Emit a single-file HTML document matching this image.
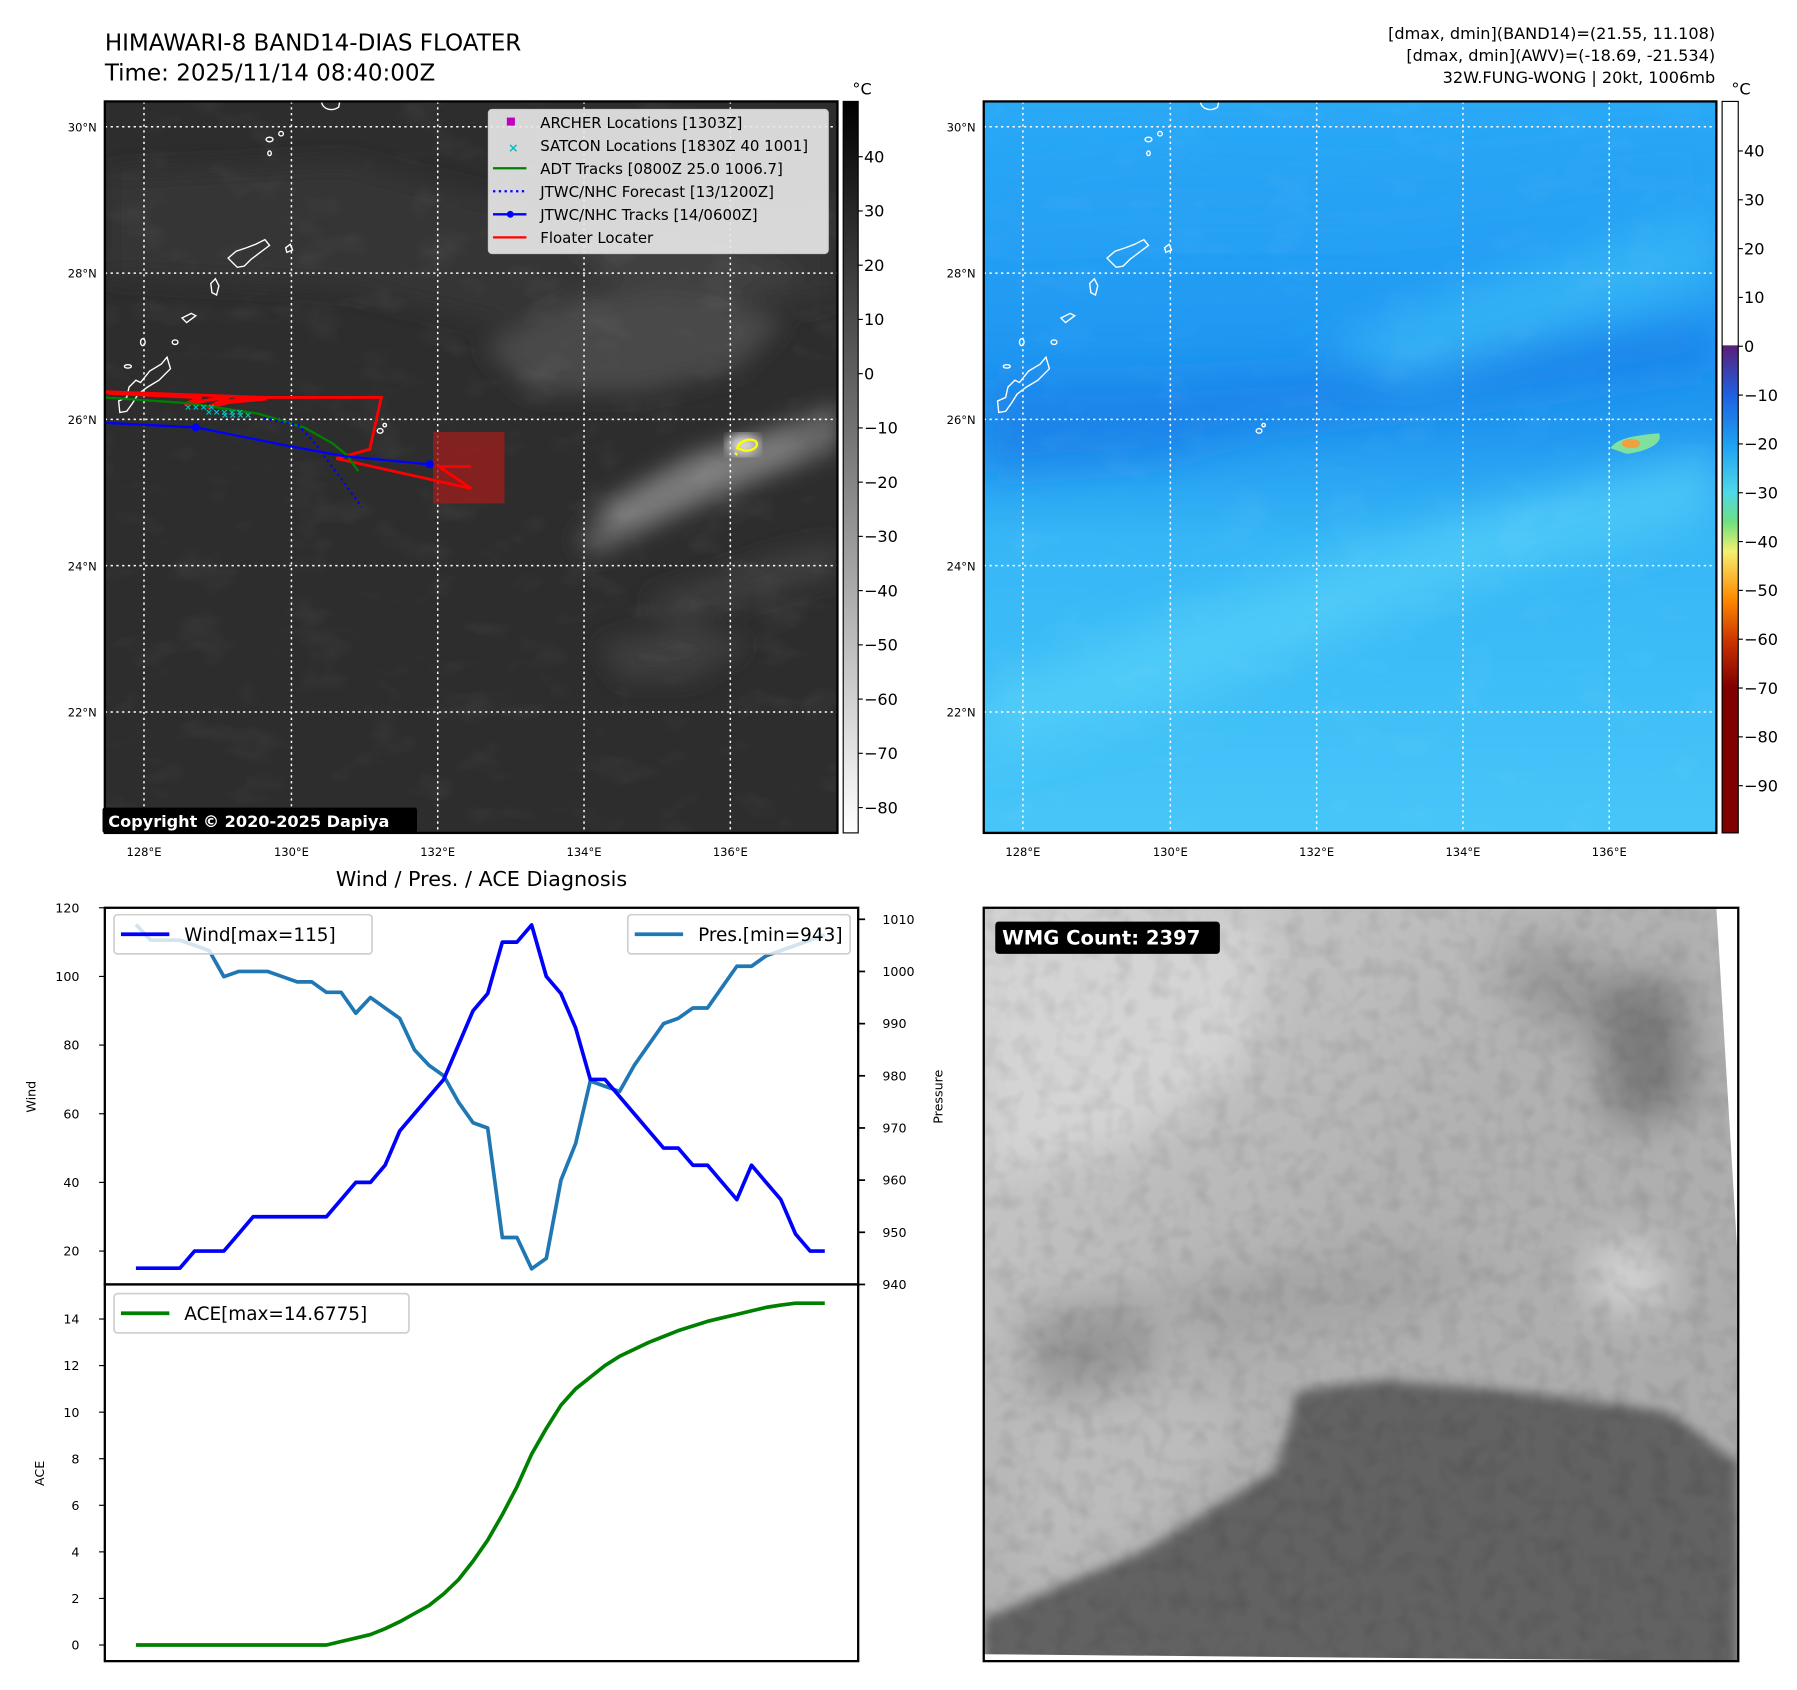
<!DOCTYPE html>
<html><head><meta charset="utf-8">
<style>
html,body{margin:0;padding:0;background:#fff;}
svg{display:block;font-family:"DejaVu Sans","Liberation Sans",sans-serif;}
</style></head>
<body>
<svg id="fig" width="1797" height="1690" viewBox="0 0 1560 1467" xmlns="http://www.w3.org/2000/svg">
<defs>
  <linearGradient id="cb1" x1="0" y1="0" x2="0" y2="1">
    <stop offset="0" stop-color="#000"/><stop offset="1" stop-color="#fff"/>
  </linearGradient>
  <linearGradient id="cb2" x1="0" y1="0" x2="0" y2="1">
    <stop offset="0" stop-color="#fff"/><stop offset="0.333" stop-color="#fff"/>
    <stop offset="0.334" stop-color="#5a1e78"/>
    <stop offset="0.40" stop-color="#1f5fe0"/>
    <stop offset="0.47" stop-color="#1ea2f2"/>
    <stop offset="0.535" stop-color="#4fd8e8"/>
    <stop offset="0.575" stop-color="#6ee080"/>
    <stop offset="0.615" stop-color="#f4f070"/>
    <stop offset="0.68" stop-color="#ff8a00"/>
    <stop offset="0.74" stop-color="#c83200"/>
    <stop offset="0.80" stop-color="#800000"/>
    <stop offset="1" stop-color="#800000"/>
  </linearGradient>
  <linearGradient id="blueBg" x1="0" y1="0" x2="0" y2="1">
    <stop offset="0" stop-color="#2aa9f6"/>
    <stop offset="0.35" stop-color="#1f97f2"/>
    <stop offset="0.45" stop-color="#2198f0"/>
    <stop offset="0.6" stop-color="#36b6f6"/>
    <stop offset="1" stop-color="#46c6f8"/>
  </linearGradient>
  <linearGradient id="wmgBg" x1="0" y1="0" x2="1" y2="1">
    <stop offset="0" stop-color="#d2d2d2"/>
    <stop offset="0.45" stop-color="#b2b2b2"/>
    <stop offset="1" stop-color="#a8a8a8"/>
  </linearGradient>
  <filter id="blur8"><feGaussianBlur stdDeviation="10"/></filter>
  <filter id="blur16"><feGaussianBlur stdDeviation="18"/></filter>
  <filter id="blur4"><feGaussianBlur stdDeviation="5"/></filter>
  <filter id="tex" x="0" y="0" width="100%" height="100%">
    <feTurbulence type="fractalNoise" baseFrequency="0.02 0.035" numOctaves="3" seed="4"/>
    <feColorMatrix type="matrix" values="0 0 0 0 1  0 0 0 0 1  0 0 0 0 1  0 0 0 1.4 -0.75"/>
  </filter>
  <filter id="tex2" x="0" y="0" width="100%" height="100%">
    <feTurbulence type="fractalNoise" baseFrequency="0.06" numOctaves="2" seed="9"/>
    <feColorMatrix type="matrix" values="0 0 0 0 0  0 0 0 0 0  0 0 0 0 0  0 0 0 1.6 -0.7"/>
  </filter>
  <clipPath id="clipMap1"><rect x="91" y="88" width="636" height="635"/></clipPath>
  <clipPath id="clipMap2"><rect x="854" y="88" width="636" height="635"/></clipPath>
  <g id="islands" fill="none" stroke="#fff" stroke-width="1.2">
    <path d="M104,358 L103,348 L110,345 L112,336 L118,330 L122,332 L130,322 L140,316 L145,310 L148,320 L138,330 L128,336 L120,342 L115,350 L110,357 Z"/>
    <path d="M198,224 L205,218 L214,215 L222,212 L230,208 L234,213 L226,219 L218,225 L212,231 L206,232 L202,228 Z"/>
    <path d="M183,246 L187,242 L190,248 L188,256 L184,254 Z"/>
    <path d="M158,276 L166,272 L170,274 L162,280 Z"/>
    <path d="M248,215 L252,212 L254,217 L249,219 Z"/>
    <path d="M279,88 C280,95 288,97 294,93 L295,88"/>
    <ellipse cx="234" cy="121" rx="3" ry="2"/>
    <ellipse cx="244" cy="116" rx="2" ry="2"/>
    <ellipse cx="234" cy="133" rx="1.5" ry="2"/>
    <ellipse cx="152" cy="297" rx="2.5" ry="2"/>
    <ellipse cx="124" cy="297" rx="2" ry="3"/>
    <ellipse cx="330" cy="374" rx="2.5" ry="2"/>
    <ellipse cx="334" cy="369" rx="1.5" ry="1.5"/>
    <ellipse cx="111" cy="318" rx="3" ry="1.5"/>
  </g>
</defs>

<text x="91" y="44" font-size="20">HIMAWARI-8 BAND14-DIAS FLOATER</text>
<text x="91" y="70" font-size="20">Time: 2025/11/14 08:40:00Z</text>
<g font-size="14" text-anchor="end">
  <text x="1489" y="34">[dmax, dmin](BAND14)=(21.55, 11.108)</text>
  <text x="1489" y="53">[dmax, dmin](AWV)=(-18.69, -21.534)</text>
  <text x="1489" y="72">32W.FUNG-WONG | 20kt, 1006mb</text>
</g>

<!-- Map 1 -->
<g clip-path="url(#clipMap1)">
  <rect x="91" y="88" width="636" height="635" fill="#2d2d2d"/>
  <g filter="url(#blur8)">
    <polygon points="91,150 300,140 500,190 727,180 727,260 600,280 500,300 300,250 91,240" fill="#363636"/>
    <polygon points="420,300 500,260 600,250 680,280 640,320 560,340 460,340" fill="#484848"/>
    <polygon points="480,200 560,200 640,210 700,240 640,260 540,250" fill="#404040"/>
    <polygon points="500,470 560,420 640,385 727,350 727,390 650,420 580,450 520,480" fill="#666"/>
    <polygon points="520,440 600,395 680,370 700,395 620,430 550,460" fill="#7a7a7a"/>
    <polygon points="560,520 620,500 680,480 727,470 727,500 650,520 590,540" fill="#3e3e3e"/>
    <polygon points="520,560 600,540 650,560 600,590 540,590" fill="#3c3c3c"/>
  </g>
  <rect x="91" y="88" width="636" height="635" filter="url(#tex)" opacity="0.1"/>
  <use href="#islands"/>
  <g stroke="#fff" stroke-width="1.3" stroke-dasharray="2,3">
    <line x1="125" y1="88" x2="125" y2="723"/><line x1="253" y1="88" x2="253" y2="723"/>
    <line x1="380" y1="88" x2="380" y2="723"/><line x1="507" y1="88" x2="507" y2="723"/>
    <line x1="634" y1="88" x2="634" y2="723"/>
    <line x1="91" y1="110" x2="727" y2="110"/><line x1="91" y1="237" x2="727" y2="237"/>
    <line x1="91" y1="364" x2="727" y2="364"/><line x1="91" y1="491" x2="727" y2="491"/>
    <line x1="91" y1="618" x2="727" y2="618"/>
  </g>
  <rect x="376" y="375" width="62" height="62" fill="#a01c1c" opacity="0.75"/>
  <polyline points="91,340 230,345 331,345 321,390 292,398 409,424 381,405 409,405" fill="none" stroke="#f00" stroke-width="2.5"/>
  <polyline points="93,341 175,345 160,351 200,344 180,354 215,345 190,350 232,346 200,348" fill="none" stroke="#f00" stroke-width="3"/>
  <polyline points="91,345 164,350 224,359 264,371 289,385 301,395 311,409" fill="none" stroke="#008000" stroke-width="2"/>
  <polyline points="229,363 259,369 272,383 289,406 314,440" fill="none" stroke="#00f" stroke-width="2" stroke-dasharray="2,3"/>
  <polyline points="91,367 170,371 250,387 299,396 372,403" fill="none" stroke="#00f" stroke-width="2"/>
  <circle cx="170" cy="371" r="3.5" fill="#00f"/><circle cx="373" cy="403" r="3.5" fill="#00f"/>
  <g fill="#00c0c0" font-size="8" font-weight="bold">
    <text x="160" y="356">××××</text><text x="178" y="360">×××××</text><text x="192" y="363">××××</text>
  </g>
  <ellipse cx="645" cy="386" rx="14" ry="9" fill="#ddd" filter="url(#blur4)"/>
  <path d="M640,389 C642,382 652,380 656,383 C660,388 652,392 646,391 Z M638,393 L640,395" fill="none" stroke="#ff0" stroke-width="2"/>
</g>
<rect x="91" y="88" width="636" height="635" fill="none" stroke="#000" stroke-width="2"/>
<g>
  <rect x="424" y="95" width="295" height="125" rx="3" fill="#e6e6e6" fill-opacity="0.92" stroke="#ccc"/>
  <g font-size="13">
    <rect x="440" y="102" width="7" height="7" fill="#c000c0"/>
    <text x="441" y="132" fill="#00c0c0" font-weight="bold" font-size="11">×</text>
    <line x1="428" y1="146" x2="457" y2="146" stroke="#008000" stroke-width="2"/>
    <line x1="428" y1="166" x2="457" y2="166" stroke="#00f" stroke-width="2" stroke-dasharray="2,3"/>
    <line x1="428" y1="186" x2="457" y2="186" stroke="#00f" stroke-width="2"/><circle cx="443" cy="186" r="3" fill="#00f"/>
    <line x1="428" y1="206" x2="457" y2="206" stroke="#f00" stroke-width="2"/>
    <text x="469" y="111">ARCHER Locations [1303Z]</text>
    <text x="469" y="131">SATCON Locations [1830Z 40 1001]</text>
    <text x="469" y="151">ADT Tracks [0800Z 25.0 1006.7]</text>
    <text x="469" y="171">JTWC/NHC Forecast [13/1200Z]</text>
    <text x="469" y="191">JTWC/NHC Tracks [14/0600Z]</text>
    <text x="469" y="211">Floater Locater</text>
  </g>
</g>
<g>
  <rect x="89" y="701" width="273" height="22" rx="2" fill="#000"/>
  <text x="94" y="718" fill="#fff" font-size="14" font-weight="bold">Copyright © 2020-2025 Dapiya</text>
</g>
<g font-size="10" fill="#000">
  <g text-anchor="end"><text x="84" y="114">30°N</text><text x="84" y="241">28°N</text><text x="84" y="368">26°N</text><text x="84" y="495">24°N</text><text x="84" y="622">22°N</text></g>
  <g text-anchor="middle"><text x="125" y="743">128°E</text><text x="253" y="743">130°E</text><text x="380" y="743">132°E</text><text x="507" y="743">134°E</text><text x="634" y="743">136°E</text></g>
</g>
<g>
  <rect x="732" y="88" width="13" height="635" fill="url(#cb1)" stroke="#000" stroke-width="1"/>
  <text x="740" y="82" font-size="14">°C</text>
  <g id="cb1ticks" font-size="14"></g>
</g>

<!-- Map 2 -->
<g clip-path="url(#clipMap2)">
  <rect x="854" y="88" width="636" height="635" fill="url(#blueBg)"/>
  <g filter="url(#blur16)">
    <polygon points="854,330 1000,330 1150,320 1300,300 1490,280 1490,320 1300,345 1100,370 1000,400 854,410" fill="#1a7fe8" opacity="0.8"/>
    <polygon points="1150,300 1300,240 1490,180 1490,250 1350,290 1220,330" fill="#3ab8f6" opacity="0.8"/>
    <polygon points="854,600 1000,540 1150,490 1300,440 1490,390 1490,450 1300,500 1150,560 1000,620 854,660" fill="#55d0f8" opacity="0.7"/>
    <polygon points="854,160 1000,140 1200,150 1490,120 1490,160 1200,200 1000,200 854,210" fill="#2ba3f4" opacity="0.7"/>
  </g>
  <rect x="854" y="88" width="636" height="635" filter="url(#tex)" opacity="0.08"/>
  <path d="M1398,389 C1404,380 1420,378 1440,376 C1445,384 1430,392 1412,394 Z" fill="#7fe0a0"/>
  <ellipse cx="1416" cy="385" rx="8" ry="4" fill="#f0a040"/>
  <use href="#islands" transform="translate(763,0)"/>
  <g stroke="#fff" stroke-width="1.3" stroke-dasharray="2,3">
    <line x1="888" y1="88" x2="888" y2="723"/><line x1="1016" y1="88" x2="1016" y2="723"/>
    <line x1="1143" y1="88" x2="1143" y2="723"/><line x1="1270" y1="88" x2="1270" y2="723"/>
    <line x1="1397" y1="88" x2="1397" y2="723"/>
    <line x1="854" y1="110" x2="1490" y2="110"/><line x1="854" y1="237" x2="1490" y2="237"/>
    <line x1="854" y1="364" x2="1490" y2="364"/><line x1="854" y1="491" x2="1490" y2="491"/>
    <line x1="854" y1="618" x2="1490" y2="618"/>
  </g>
</g>
<rect x="854" y="88" width="636" height="635" fill="none" stroke="#000" stroke-width="2"/>
<g font-size="10" fill="#000">
  <g text-anchor="end"><text x="847" y="114">30°N</text><text x="847" y="241">28°N</text><text x="847" y="368">26°N</text><text x="847" y="495">24°N</text><text x="847" y="622">22°N</text></g>
  <g text-anchor="middle"><text x="888" y="743">128°E</text><text x="1016" y="743">130°E</text><text x="1143" y="743">132°E</text><text x="1270" y="743">134°E</text><text x="1397" y="743">136°E</text></g>
</g>
<g>
  <rect x="1495" y="88" width="14" height="635" fill="url(#cb2)" stroke="#000" stroke-width="1"/>
  <text x="1503" y="82" font-size="14">°C</text>
  <g id="cb2ticks" font-size="14"></g>
</g>

<text x="418" y="769" font-size="18" text-anchor="middle">Wind / Pres. / ACE Diagnosis</text>
<g id="chart"></g>

<!-- WMG -->
<g>
  <clipPath id="clipW"><polygon points="854,788 1490,788 1509,1100 1509,1442 854,1442"/></clipPath>
  <g clip-path="url(#clipW)">
    <rect x="854" y="788" width="655" height="654" fill="url(#wmgBg)"/>
    <g filter="url(#blur16)">
      <polygon points="854,800 1100,800 1080,920 980,990 854,1020" fill="#d4d4d4"/>
      <polygon points="1380,850 1460,850 1470,960 1400,980" fill="#7a7a7a"/>
      <polygon points="1300,820 1380,820 1380,900 1320,880" fill="#9a9a9a"/>
      <polygon points="890,1140 1000,1130 1000,1200 900,1220" fill="#969696"/>
      <polygon points="1380,1080 1440,1080 1450,1130 1385,1140" fill="#d4d4d4"/>
      <polygon points="1000,1120 1200,1080 1300,1100 1200,1150 1050,1170" fill="#a4a4a4"/>
      <polygon points="880,1220 1000,1200 1090,1230 1000,1330 880,1380" fill="#bcbcbc"/>
    </g>
    <g filter="url(#blur4)">
      <polygon points="854,1405 991,1347 1109,1275 1127,1207 1200,1198 1310,1207 1446,1225 1509,1270 1509,1460 854,1460" fill="#626262"/>
    </g>
    <rect x="854" y="788" width="655" height="654" filter="url(#tex2)" opacity="0.12"/>
  </g>
  <polygon points="854,1436 1509,1442 854,1442" fill="#fff"/>
  <rect x="854" y="788" width="655" height="654" fill="none" stroke="#000" stroke-width="2"/>
  <rect x="864" y="800" width="195" height="28" rx="3" fill="#000"/>
  <text x="870" y="820" fill="#fff" font-size="17" font-weight="bold">WMG Count: 2397</text>
</g>

<script>
const windValues = [15,15,15,15,20,20,20,25,30,30,30,30,30,30,35,40,40,45,55,60,65,70,80,90,95,110,110,115,100,95,85,70,70,65,60,55,50,50,45,45,40,35,45,40,35,25,20,20];
const presValues = [1009,1006,1006,1006,1005,1004,999,1000,1000,1000,999,998,998,996,996,992,995,993,991,985,982,980,975,971,970,949,949,943,945,960,967,979,978,977,982,986,990,991,993,993,997,1001,1001,1003,1004,1005,1006,1007];
const aceValues = [0,0,0,0,0,0,0,0,0,0,0,0,0,0,0.15,0.3,0.45,0.7,1.0,1.35,1.7,2.2,2.8,3.6,4.5,5.6,6.8,8.2,9.3,10.3,11.0,11.5,12.0,12.4,12.7,13.0,13.25,13.5,13.7,13.9,14.05,14.2,14.35,14.5,14.6,14.68,14.68,14.68];
const windTicks = [20,40,60,80,100,120];
const presTicks = [940,950,960,970,980,990,1000,1010];
const aceTicks = [0,2,4,6,8,10,12,14];
const cb1Ticks = [40,30,20,10,0,-10,-20,-30,-40,-50,-60,-70,-80];
const cb2Ticks = [40,30,20,10,0,-10,-20,-30,-40,-50,-60,-70,-80,-90];

const NS = 'http://www.w3.org/2000/svg';
function mk(tag, attrs, parent){const e=document.createElementNS(NS,tag);for(const k in attrs)e.setAttribute(k,attrs[k]);parent.appendChild(e);return e;}
function fmt(v){return v<0?'\u2212'+Math.abs(v):String(v);}

const xS = i => 118 + i*(598/(windValues.length-1));
const yWind = v => 788 + (120-v)*2.98;
const yPres = p => 798 + (1010-p)*(317/70);
const yAce = v => 1428 - v*(283/14);
const yCb1 = v => 136 + (40-v)*(565/120);
const yCb2 = v => 131 + (40-v)*(551/130);

const cb1 = document.getElementById('cb1ticks');
cb1Ticks.forEach(v=>{
  mk('line',{x1:745,x2:749,y1:yCb1(v),y2:yCb1(v),stroke:'#000'},cb1);
  const t=mk('text',{x:750,y:yCb1(v)+5},cb1); t.textContent=fmt(v);
  
  
});
const cb2 = document.getElementById('cb2ticks');
cb2Ticks.forEach(v=>{
  mk('line',{x1:1509,x2:1513,y1:yCb2(v),y2:yCb2(v),stroke:'#000'},cb2);
  const t=mk('text',{x:1514,y:yCb2(v)+5},cb2); t.textContent=fmt(v);
  
  
});

const chart = document.getElementById('chart');
mk('rect',{x:91,y:788,width:654,height:327,fill:'#fff',stroke:'#000','stroke-width':2},chart);
mk('rect',{x:91,y:1115,width:654,height:327,fill:'#fff',stroke:'#000','stroke-width':2},chart);

windTicks.forEach(v=>{
  mk('line',{x1:86,x2:91,y1:yWind(v),y2:yWind(v),stroke:'#000'},chart);
  const t=mk('text',{x:69,y:yWind(v)+4,'font-size':11,'text-anchor':'end'},chart); t.textContent=v;
  
  
});
presTicks.forEach(v=>{
  mk('line',{x1:745,x2:751,y1:yPres(v),y2:yPres(v),stroke:'#000','stroke-width':1.5},chart);
  const t=mk('text',{x:766,y:yPres(v)+4,'font-size':11},chart); t.textContent=v;
  
  
});
aceTicks.forEach(v=>{
  mk('line',{x1:86,x2:91,y1:yAce(v),y2:yAce(v),stroke:'#000'},chart);
  const t=mk('text',{x:69,y:yAce(v)+4,'font-size':11,'text-anchor':'end'},chart); t.textContent=v;
  
  
});
const yl1=mk('text',{x:31,y:952,'font-size':11,'text-anchor':'middle',transform:'rotate(-90 31 952)'},chart); yl1.textContent='Wind';


const yl2=mk('text',{x:818,y:952,'font-size':11,'text-anchor':'middle',transform:'rotate(-90 818 952)'},chart); yl2.textContent='Pressure';


const yl3=mk('text',{x:38,y:1279,'font-size':11,'text-anchor':'middle',transform:'rotate(-90 38 1279)'},chart); yl3.textContent='ACE';



const pWind = windValues.map((v,i)=>xS(i)+','+yWind(v)).join(' ');
const pPres = presValues.map((v,i)=>xS(i)+','+yPres(v)).join(' ');
const pAce = aceValues.map((v,i)=>xS(i)+','+yAce(v)).join(' ');
const lp=mk('polyline',{points:pPres,fill:'none',stroke:'#1f77b4','stroke-width':3.2,'stroke-linejoin':'round'},chart);


const lw=mk('polyline',{points:pWind,fill:'none',stroke:'#0000ff','stroke-width':3.2,'stroke-linejoin':'round'},chart);


const la=mk('polyline',{points:pAce,fill:'none',stroke:'#008000','stroke-width':3.2,'stroke-linejoin':'round'},chart);



function legend(x,y,w,color,label,name){
  const g=mk('g',{},chart);
  
  
  mk('rect',{x:x,y:y,width:w,height:34,rx:3,fill:'#fff','fill-opacity':0.8,stroke:'#d0d0d0','stroke-width':1.5},g);
  mk('line',{x1:x+6,x2:x+48,y1:y+17,y2:y+17,stroke:color,'stroke-width':3.2},g);
  const t=mk('text',{x:x+61,y:y+23,'font-size':16},g); t.textContent=label;
}
legend(99,794,224,'#0000ff','Wind[max=115]','wind-legend');
legend(545,794,193,'#1f77b4','Pres.[min=943]','pressure-legend');
legend(99,1123,256,'#008000','ACE[max=14.6775]','ace-legend');
</script>
</svg>
</body></html>
